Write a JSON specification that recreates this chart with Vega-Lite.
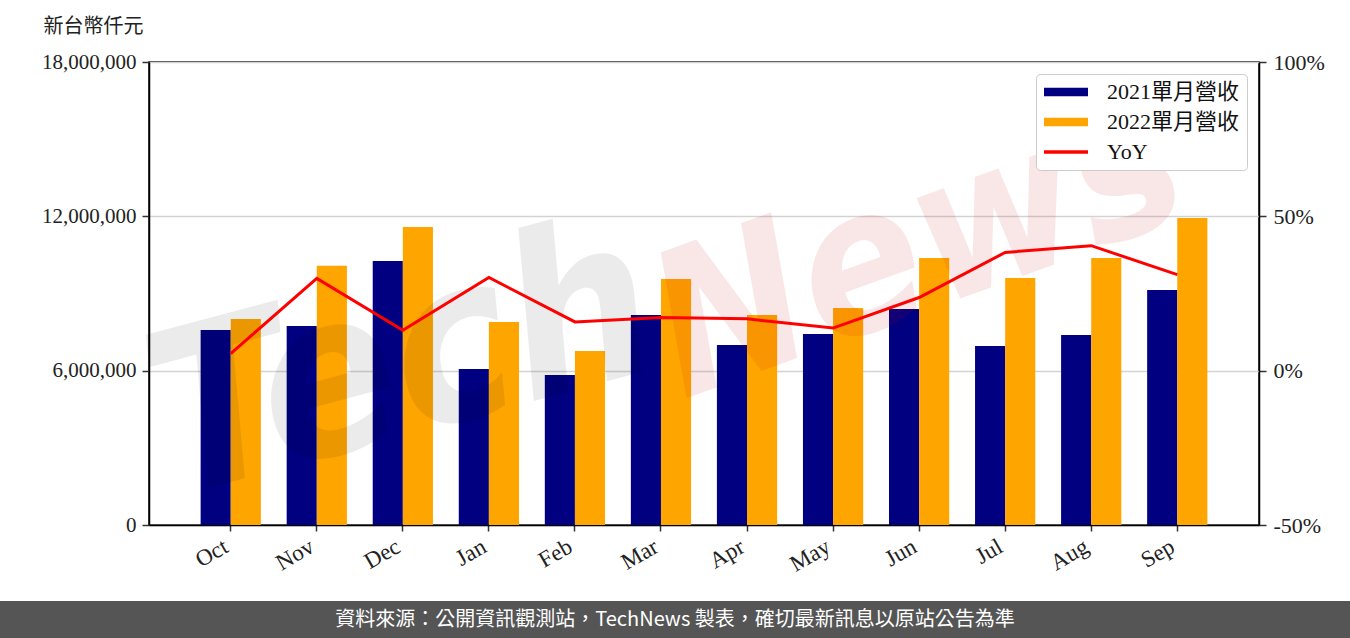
{
  "$schema": "https://vega.github.io/schema/vega-lite/v6.json",
  "padding": {"top": 15, "left": 0, "right": 0, "bottom": 0},
  "background": "white",
  "spacing": 24,
  "config": {"view": {"stroke": null}},
  "resolve": {"scale": {"color": "independent"}, "legend": {"color": "independent"}},
  "datasets": {
    "bars": [
      {"month": "Oct", "series": "2021單月營收", "value": 7580000},
      {"month": "Oct", "series": "2022單月營收", "value": 8010000},
      {"month": "Nov", "series": "2021單月營收", "value": 7740000},
      {"month": "Nov", "series": "2022單月營收", "value": 10080000},
      {"month": "Dec", "series": "2021單月營收", "value": 10260000},
      {"month": "Dec", "series": "2022單月營收", "value": 11590000},
      {"month": "Jan", "series": "2021單月營收", "value": 6060000},
      {"month": "Jan", "series": "2022單月營收", "value": 7890000},
      {"month": "Feb", "series": "2021單月營收", "value": 5830000},
      {"month": "Feb", "series": "2022單月營收", "value": 6760000},
      {"month": "Mar", "series": "2021單月營收", "value": 8160000},
      {"month": "Mar", "series": "2022單月營收", "value": 9560000},
      {"month": "Apr", "series": "2021單月營收", "value": 7000000},
      {"month": "Apr", "series": "2022單月營收", "value": 8160000},
      {"month": "May", "series": "2021單月營收", "value": 7430000},
      {"month": "May", "series": "2022單月營收", "value": 8440000},
      {"month": "Jun", "series": "2021單月營收", "value": 8400000},
      {"month": "Jun", "series": "2022單月營收", "value": 10380000},
      {"month": "Jul", "series": "2021單月營收", "value": 6960000},
      {"month": "Jul", "series": "2022單月營收", "value": 9600000},
      {"month": "Aug", "series": "2021單月營收", "value": 7390000},
      {"month": "Aug", "series": "2022單月營收", "value": 10380000},
      {"month": "Sep", "series": "2021單月營收", "value": 9140000},
      {"month": "Sep", "series": "2022單月營收", "value": 11940000}
    ],
    "yoy": [
      {"month": "Oct", "yoy": 5.5},
      {"month": "Nov", "yoy": 29.9},
      {"month": "Dec", "yoy": 13.1},
      {"month": "Jan", "yoy": 30.2},
      {"month": "Feb", "yoy": 15.8},
      {"month": "Mar", "yoy": 17.2},
      {"month": "Apr", "yoy": 16.8},
      {"month": "May", "yoy": 13.8},
      {"month": "Jun", "yoy": 23.7},
      {"month": "Jul", "yoy": 38.3},
      {"month": "Aug", "yoy": 40.5},
      {"month": "Sep", "yoy": 31.1}
    ]
  },
  "vconcat": [
    {
      "spacing": 0,
      "resolve": {"scale": {"color": "independent"}, "legend": {"color": "independent"}},
      "hconcat": [
        {
          "width": 40,
          "height": 10,
          "data": {"values": [{}]},
          "mark": {"type": "rect", "opacity": 0},
          "encoding": {}
        },
        {
          "width": 1110,
          "height": 463,
          "view": {"stroke": "black", "strokeWidth": 1.5},
          "resolve": {"scale": {"y": "independent"}},
          "layer": [
            {
              "layer": [
                {
                  "data": {"name": "bars"},
                  "mark": {"type": "bar"},
                  "encoding": {
                    "x": {
                      "field": "month",
                      "type": "nominal",
                      "sort": ["Oct", "Nov", "Dec", "Jan", "Feb", "Mar", "Apr", "May", "Jun", "Jul", "Aug", "Sep"],
                      "scale": {"paddingInner": 0.3, "paddingOuter": 0.6},
                      "axis": {
                        "title": null,
                        "labelAngle": -30,
                        "labelFont": "Liberation Serif",
                        "labelFontSize": 23,
                        "labelColor": "#222222",
                        "labelPadding": 4,
                        "labelOffset": -10,
                        "tickColor": "#333333",
                        "tickSize": 6,
                        "tickWidth": 1.5,
                        "domainColor": "black",
                        "domainWidth": 1.5
                      }
                    },
                    "xOffset": {"field": "series", "type": "nominal", "scale": {"paddingInner": 0, "paddingOuter": 0}},
                    "y": {
                      "field": "value",
                      "type": "quantitative",
                      "scale": {"domain": [0, 18000000], "nice": false},
                      "axis": {
                        "values": [0, 6000000, 12000000, 18000000],
                        "format": ",d",
                        "title": "新台幣仟元",
                        "titleAngle": 0,
                        "titleX": -56,
                        "titleY": -36,
                        "titleAlign": "center",
                        "titleBaseline": "middle",
                        "titleFont": "Noto Sans CJK TC",
                        "titleFontSize": 20,
                        "titleFontWeight": "normal",
                        "titleColor": "#222222",
                        "labelFont": "Liberation Serif",
                        "labelFontSize": 21,
                        "labelColor": "#222222",
                        "labelPadding": 6,
                        "tickSize": 7,
                        "tickColor": "#333333",
                        "tickWidth": 1.5,
                        "domainColor": "black",
                        "domainWidth": 1.5,
                        "gridColor": "#d3d3d3",
                        "gridWidth": 1.5
                      }
                    },
                    "color": {
                      "field": "series",
                      "type": "nominal",
                      "scale": {
                        "domain": ["2021單月營收", "2022單月營收", "YoY"],
                        "range": ["#000080", "#FFA500", "#FF0000"]
                      },
                      "legend": {
                        "title": null,
                        "orient": "top-right",
                        "offset": 12,
                        "padding": 7,
                        "strokeColor": "#cccccc",
                        "fillColor": "white",
                        "cornerRadius": 4,
                        "labelFont": "Liberation Serif, Noto Sans CJK TC",
                        "labelFontSize": 22,
                        "labelColor": "#111111",
                        "labelLimit": 300,
                        "symbolSize": 400,
                        "symbolOffset": 12,
                        "labelOffset": 30,
                        "rowPadding": 8,
                        "encode": {
                          "symbols": {
                            "update": {
                              "shape": {"signal": "datum.value === 'YoY' ? 'M-2.2,0H2.2' : 'M-2.2,-0.43H2.2V0.43H-2.2Z'"},
                              "fill": {"signal": "datum.value === 'YoY' ? 'transparent' : (datum.value === '2021單月營收' ? '#000080' : '#FFA500')"},
                              "stroke": {"signal": "datum.value === 'YoY' ? '#FF0000' : 'transparent'"},
                              "strokeWidth": {"signal": "datum.value === 'YoY' ? 3.5 : 0"},
                              "opacity": {"value": 1}
                            }
                          }
                        }
                      }
                    }
                  }
                },
                {
                  "data": {"values": [{"w": "Tech"}]},
                  "mark": {"type": "text", "font": "DejaVu Sans Condensed, DejaVu Sans", "fontStyle": "italic", "fontWeight": "bold", "fontSize": 225, "angle": -15, "align": "center", "baseline": "middle", "color": "#000000", "opacity": 0.075},
                  "encoding": {
                    "x": {"datum": "Dec", "type": "nominal"},
                    "y": {"datum": 6200000, "type": "quantitative"},
                    "text": {"field": "w", "type": "nominal"}
                  }
                },
                {
                  "data": {"values": [{"w": "News"}]},
                  "mark": {"type": "text", "font": "DejaVu Sans Condensed, DejaVu Sans", "fontStyle": "italic", "fontWeight": "bold", "fontSize": 200, "angle": -20, "align": "center", "baseline": "middle", "color": "#c80000", "opacity": 0.09},
                  "encoding": {
                    "x": {"datum": "Jun", "type": "nominal"},
                    "y": {"datum": 10700000, "type": "quantitative"},
                    "text": {"field": "w", "type": "nominal"}
                  }
                }
              ]
            },
            {
              "data": {"name": "yoy"},
              "mark": {"type": "line", "strokeWidth": 3},
              "encoding": {
                "x": {
                  "field": "month",
                  "type": "nominal",
                  "sort": ["Oct", "Nov", "Dec", "Jan", "Feb", "Mar", "Apr", "May", "Jun", "Jul", "Aug", "Sep"]
                },
                "y": {
                  "field": "yoy",
                  "type": "quantitative",
                  "scale": {"domain": [-50, 100], "nice": false},
                  "axis": {
                    "orient": "right",
                    "values": [-50, 0, 50, 100],
                    "labelExpr": "datum.value + '%'",
                    "title": null,
                    "grid": false,
                    "labelFont": "Liberation Serif",
                    "labelFontSize": 22,
                    "labelColor": "#222222",
                    "labelPadding": 7,
                    "tickSize": 7,
                    "tickColor": "#333333",
                    "tickWidth": 1.5,
                    "domainColor": "black",
                    "domainWidth": 1.5
                  }
                },
                "color": {"datum": "YoY", "type": "nominal"}
              }
            }
          ]
        }
      ]
    },
    {
      "width": 1350,
      "height": 38,
      "view": {"fill": "#555555", "stroke": null},
      "data": {"values": [{"t": "資料來源：公開資訊觀測站，TechNews 製表，確切最新訊息以原站公告為準"}]},
      "mark": {"type": "text", "color": "white", "font": "Noto Sans CJK TC", "fontSize": 20, "align": "center", "baseline": "middle"},
      "encoding": {"text": {"field": "t", "type": "nominal"}}
    }
  ]
}
